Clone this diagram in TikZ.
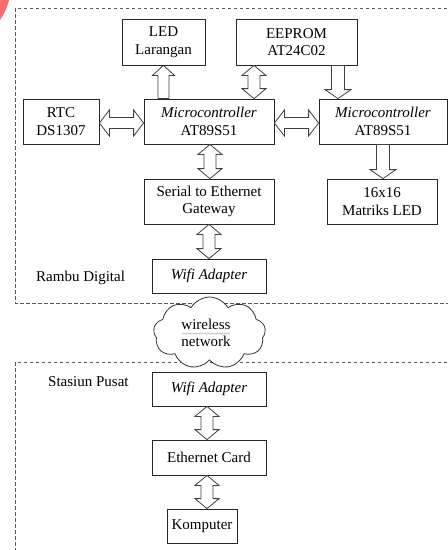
\documentclass[tikz,border=0pt]{standalone}
\usepackage{fontspec}
\setmainfont{Liberation Serif}
\usetikzlibrary{calc,shapes.symbols,decorations.pathmorphing}
\definecolor{cornerred}{rgb}{1,0.42,0.42}
\tikzset{
  blk/.style={draw=black!75, fill=white, line width=0.8pt, line join=miter},
  box/.style={draw=black!85, line width=0.8pt, fill=white, align=center, inner sep=1pt,
    font=\fontsize{15}{17.5}\selectfont},
  region/.style={draw=black!65, line width=0.8pt, dash pattern=on 3.5pt off 2.5pt},
  lbl/.style={font=\fontsize{15}{17.5}\selectfont, inner sep=0pt}
}
% vertical double arrow: #1 upper point, #2 lower point
\newcommand\dblV[2]{\path[blk] let \p1=(#1), \p2=(#2) in
  (\x1,\y1) -- (\x1+12pt,\y1-10pt) -- (\x1+6pt,\y1-10pt) -- (\x1+6pt,\y2+10pt) --
  (\x1+12pt,\y2+10pt) -- (\x1,\y2) -- (\x1-12pt,\y2+10pt) -- (\x1-6pt,\y2+10pt) --
  (\x1-6pt,\y1-10pt) -- (\x1-12pt,\y1-10pt) -- cycle;}
% vertical up arrow: tip at #1 (upper), flat end at #2
\newcommand\upV[2]{\path[blk] let \p1=(#1), \p2=(#2) in
  (\x1,\y1) -- (\x1+11pt,\y1-10pt) -- (\x1+5.5pt,\y1-10pt) -- (\x1+5.5pt,\y2) --
  (\x1-5.5pt,\y2) -- (\x1-5.5pt,\y1-10pt) -- (\x1-11pt,\y1-10pt) -- cycle;}
% vertical down arrow: flat end at #1 (upper), tip at #2
\newcommand\downV[2]{\path[blk] let \p1=(#1), \p2=(#2) in
  (\x1-6.5pt,\y1) -- (\x1+6.5pt,\y1) -- (\x1+6.5pt,\y2+9pt) -- (\x1+13pt,\y2+9pt) --
  (\x1,\y2) -- (\x1-13pt,\y2+9pt) -- (\x1-6.5pt,\y2+9pt) -- cycle;}
% horizontal double arrow: #1 left point, #2 right point
\newcommand\dblH[2]{\path[blk] let \p1=(#1), \p2=(#2) in
  (\x1,\y1) -- (\x1+10pt,\y1+13pt) -- (\x1+10pt,\y1+5.5pt) -- (\x2-10pt,\y1+5.5pt) --
  (\x2-10pt,\y1+13pt) -- (\x2,\y1) -- (\x2-10pt,\y1-13pt) -- (\x2-10pt,\y1-5.5pt) --
  (\x1+10pt,\y1-5.5pt) -- (\x1+10pt,\y1-13pt) -- cycle;}
\begin{document}
\begin{tikzpicture}[x=1pt,y=-1pt]
\useasboundingbox (0,0) rectangle (448,550);
\clip (0,0) rectangle (448,550);
\fill[white] (0,0) rectangle (448,550);
\fill[cornerred] (0,0) -- (9,0) to[bend left=10] (0,20) -- cycle;

% regions
\draw[region] (15,8) rectangle (470,303);
\draw[region] (15,362) rectangle (470,570);

% top nodes
\node[box, minimum width=83pt, minimum height=46pt] (led) at (163.5,42) {LED\\Larangan};
\node[box, minimum width=121pt, minimum height=46pt] (eeprom) at (296.5,42) {EEPROM\\AT24C02};
\node[box, minimum width=76pt, minimum height=45pt] (rtc) at (61,121.5) {RTC\\DS1307};
\node[box, minimum width=130pt, minimum height=45pt] (mc1) at (209,121.5) {\textit{Microcontroller}\\AT89S51};
\node[box, minimum width=128pt, minimum height=45pt] (mc2) at (383,121.5) {\textit{Microcontroller}\\AT89S51};
\node[box, minimum width=130pt, minimum height=45pt] (serial) at (209,201.5) {Serial to Ethernet\\Gateway};
\node[box, minimum width=110pt, minimum height=45pt] (matrix) at (382,201.5) {16x16\\Matriks LED};
\node[box, minimum width=114pt, minimum height=34pt] (wifi1) at (209,276) {\textit{Wifi Adapter}};
\node[lbl, anchor=west] (rambu) at (36,278) {Rambu Digital};

% cloud
\node[cloud, draw=black!80, line width=0.8pt, fill=white, cloud puffs=9, cloud puff arc=120,
  aspect=1.9, minimum width=112pt, minimum height=72pt, inner sep=0pt] (cloud) at (209.5,333) {};
\node[lbl, align=center] (cloudtext) at (206,333) {wireless\\network};
\draw[black!35, line width=0.4pt, decorate, decoration={snake, amplitude=0.7pt, segment length=2.5pt}]
  (182,333.5) -- (230,333.5);

% bottom nodes
\node[lbl, anchor=west] (stasiun) at (48,382) {Stasiun Pusat};
\node[box, minimum width=114pt, minimum height=34pt] (wifi2) at (209,389) {\textit{Wifi Adapter}};
\node[box, minimum width=114pt, minimum height=35pt] (eth) at (209,457.5) {Ethernet Card};
\node[box, minimum width=70pt, minimum height=34pt] (komp) at (202,526) {Komputer};

% connectors
\upV{led.south}{$(mc1.north)+(-45.5,0)$}
\dblV{$(eeprom.south)+(-42.5,0)$}{$(mc1.north)+(45,0)$}
\downV{$(eeprom.south)+(41.5,0)$}{$(mc2.north)+(-45,0)$}
\dblH{$(rtc.east)+(0,1.5)$}{$(mc1.west)+(0,1.5)$}
\dblH{$(mc1.east)+(0,1.5)$}{$(mc2.west)+(0,1.5)$}
\dblV{$(mc1.south)+(1,0)$}{$(serial.north)+(1,0)$}
\downV{mc2.south}{$(matrix.north)+(1,0)$}
\dblV{serial.south}{wifi1.north}
\dblV{$(wifi2.south)+(-2,0)$}{$(eth.north)+(-2,0)$}
\dblV{$(eth.south)+(-2,0)$}{$(komp.north)+(5,0)$}
\end{tikzpicture}
\end{document}
